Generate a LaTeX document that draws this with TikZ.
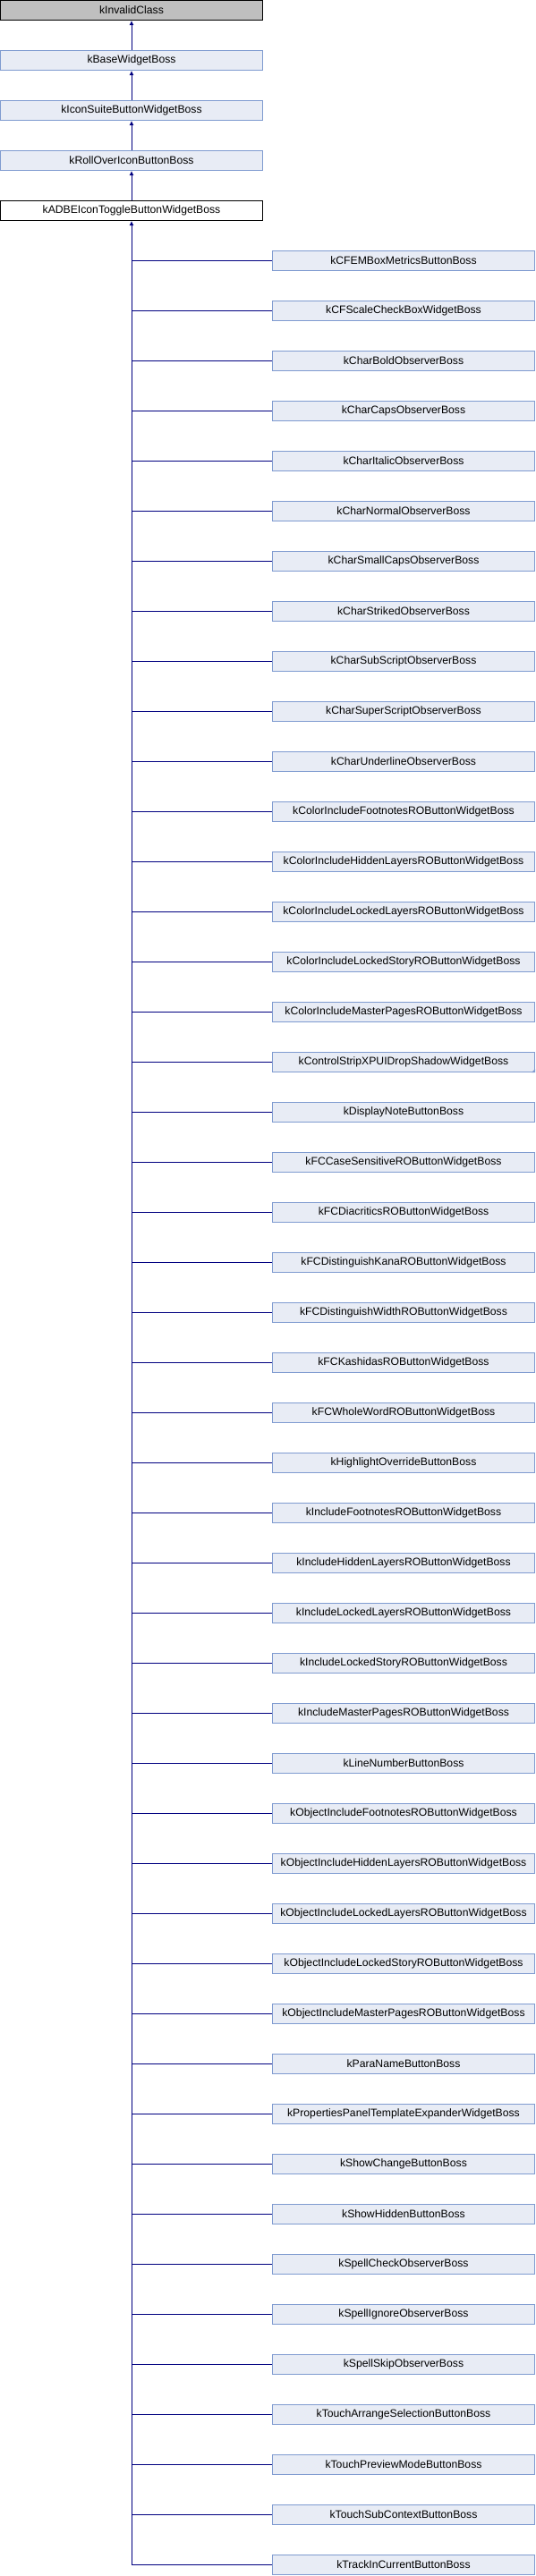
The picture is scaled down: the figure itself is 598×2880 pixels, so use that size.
\documentclass[tikz,border=0pt]{standalone}
\usepackage{fontspec}
\setmainfont{Liberation Sans}
\usetikzlibrary{arrows.meta}
\definecolor{boxfill}{HTML}{E8ECF5}
\definecolor{boxline}{HTML}{7F9BD0}
\definecolor{edgecol}{HTML}{000080}
\definecolor{rootfill}{HTML}{BFBFBF}
\begin{document}
\begin{tikzpicture}[x=1pt,y=-1pt,
  cls/.style={draw=boxline, fill=boxfill, line width=1pt, minimum width=293pt,
    minimum height=22pt, inner sep=0pt, font=\fontsize{12.2}{14}\selectfont},
  rootcls/.style={cls, draw=black, fill=rootfill},
  curcls/.style={cls, draw=black, fill=white},
  edge/.style={draw=edgecol, line width=1pt},
  inh/.style={edge, -{Latex[length=5pt,width=5pt]}}]
\useasboundingbox (0,0) rectangle (598,2880);
\node[rootcls] (root) at (147,11.5) {kInvalidClass};
\node[cls] (base) at (147,67.5) {kBaseWidgetBoss};
\node[cls] (icon) at (147,123.5) {kIconSuiteButtonWidgetBoss};
\node[cls] (roll) at (147,179.5) {kRollOverIconButtonBoss};
\node[curcls] (adbe) at (147,235.5) {kADBEIconToggleButtonWidgetBoss};
\draw[inh] (base.north) -- (root.south);
\draw[inh] (icon.north) -- (base.south);
\draw[inh] (roll.north) -- (icon.south);
\draw[inh] (adbe.north) -- (roll.south);
\foreach \n [count=\i from 0] in {kCFEMBoxMetricsButtonBoss,kCFScaleCheckBoxWidgetBoss,kCharBoldObserverBoss,kCharCapsObserverBoss,kCharItalicObserverBoss,kCharNormalObserverBoss,kCharSmallCapsObserverBoss,kCharStrikedObserverBoss,kCharSubScriptObserverBoss,kCharSuperScriptObserverBoss,kCharUnderlineObserverBoss,kColorIncludeFootnotesROButtonWidgetBoss,kColorIncludeHiddenLayersROButtonWidgetBoss,kColorIncludeLockedLayersROButtonWidgetBoss,kColorIncludeLockedStoryROButtonWidgetBoss,kColorIncludeMasterPagesROButtonWidgetBoss,kControlStripXPUIDropShadowWidgetBoss,kDisplayNoteButtonBoss,kFCCaseSensitiveROButtonWidgetBoss,kFCDiacriticsROButtonWidgetBoss,kFCDistinguishKanaROButtonWidgetBoss,kFCDistinguishWidthROButtonWidgetBoss,kFCKashidasROButtonWidgetBoss,kFCWholeWordROButtonWidgetBoss,kHighlightOverrideButtonBoss,kIncludeFootnotesROButtonWidgetBoss,kIncludeHiddenLayersROButtonWidgetBoss,kIncludeLockedLayersROButtonWidgetBoss,kIncludeLockedStoryROButtonWidgetBoss,kIncludeMasterPagesROButtonWidgetBoss,kLineNumberButtonBoss,kObjectIncludeFootnotesROButtonWidgetBoss,kObjectIncludeHiddenLayersROButtonWidgetBoss,kObjectIncludeLockedLayersROButtonWidgetBoss,kObjectIncludeLockedStoryROButtonWidgetBoss,kObjectIncludeMasterPagesROButtonWidgetBoss,kParaNameButtonBoss,kPropertiesPanelTemplateExpanderWidgetBoss,kShowChangeButtonBoss,kShowHiddenButtonBoss,kSpellCheckObserverBoss,kSpellIgnoreObserverBoss,kSpellSkipObserverBoss,kTouchArrangeSelectionButtonBoss,kTouchPreviewModeButtonBoss,kTouchSubContextButtonBoss,kTrackInCurrentButtonBoss}{
  \node[cls] (c\i) at (451,291.5+56*\i) {\n};
  \draw[edge] (c\i.west) -- (c\i.west -| adbe.south);
}
\draw[inh] (c46.west) -| (adbe.south);
\fill[boxline] (c16.south east) -- ++(0,-4) -- ++(-4,4) -- cycle;
\end{tikzpicture}
\end{document}
